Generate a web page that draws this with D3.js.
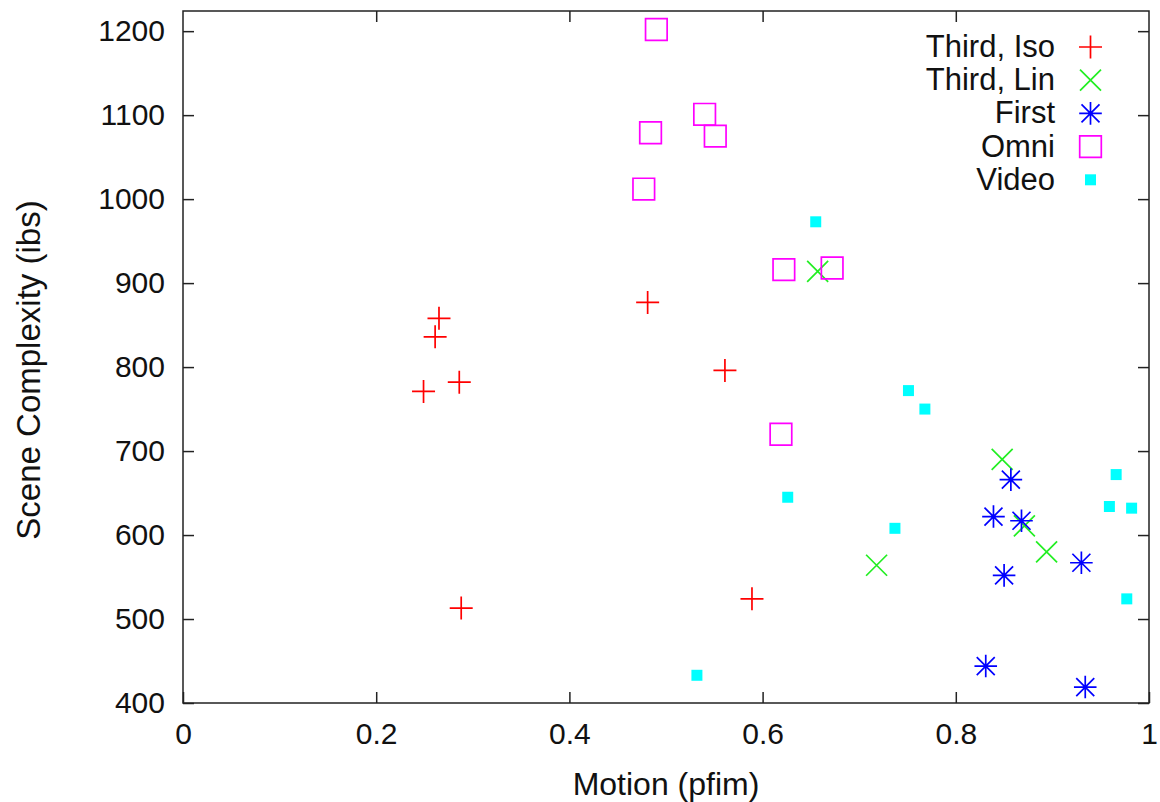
<!DOCTYPE html>
<html>
<head>
<meta charset="utf-8">
<script src="https://cdn.jsdelivr.net/npm/d3@7.9.0/dist/d3.min.js"></script>
<style>
  html, body { margin: 0; padding: 0; background: #fff; }
  svg text { font-family: "Liberation Sans", Arial, sans-serif; fill: #111; }
</style>
</head>
<body>
<svg id="chart" width="1160" height="802"></svg>
<script>
// ---- data ----
const isoX = [0.265, 0.261, 0.249, 0.286, 0.481, 0.561, 0.288, 0.589];
const isoY = [858, 836, 771, 782, 877, 796, 513, 524];

const linX = [0.657, 0.848, 0.871, 0.894, 0.718];
const linY = [914, 690, 611, 580, 564];

const firstX = [0.857, 0.839, 0.868, 0.850, 0.930, 0.831, 0.934];
const firstY = [666, 622, 617, 552, 567, 444, 419];

const omniX = [0.490, 0.540, 0.484, 0.551, 0.477, 0.622, 0.672, 0.619];
const omniY = [1202, 1101, 1079, 1075, 1012, 916, 918, 720];

const videoX = [0.655, 0.751, 0.768, 0.626, 0.737, 0.966, 0.959, 0.982, 0.977, 0.532];
const videoY = [973, 772, 750, 645, 608, 672, 634, 632, 524, 433];

const xTicks = [0, 0.2, 0.4, 0.6, 0.8, 1];
const yTicks = [400, 500, 600, 700, 800, 900, 1000, 1100, 1200];

const seriesNames = ["Third, Iso", "Third, Lin", "First", "Omni", "Video"];
const seriesColors = ["#ff0000", "#22ee22", "#0000ff", "#ff00ff", "#00ffff"];
const seriesMarkers = ["plus", "cross", "star", "box", "filledbox"];

const series = [
  { xs: isoX, ys: isoY },
  { xs: linX, ys: linY },
  { xs: firstX, ys: firstY },
  { xs: omniX, ys: omniY },
  { xs: videoX, ys: videoY }
].map((s, i) => ({
  name: seriesNames[i],
  color: seriesColors[i],
  marker: seriesMarkers[i],
  points: s.xs.map((x, j) => ({ x, y: s.ys[j] }))
}));

// ---- layout ----
const svg = d3.select("#chart");
const margin = { top: 11, right: 11, bottom: 99, left: 183 };
const width = 1160, height = 802;
const innerW = width - margin.left - margin.right;
const innerH = height - margin.top - margin.bottom;

const x = d3.scaleLinear().domain([0, 1]).range([0, innerW]);
const y = d3.scaleLinear().domain([400, 1224]).range([innerH, 0]);

const g = svg.append("g")
  .attr("transform", `translate(${margin.left},${margin.top})`);

// marker shapes (relative to the point)
function markerPath(type) {
  const p = d3.path();
  if (type === "plus") {
    p.moveTo(-11.5, 0); p.lineTo(11.5, 0);
    p.moveTo(0, -11.5); p.lineTo(0, 11.5);
  } else if (type === "cross") {
    p.moveTo(-10.5, -10.5); p.lineTo(10.5, 10.5);
    p.moveTo(-10.5, 10.5); p.lineTo(10.5, -10.5);
  } else if (type === "star") {
    p.moveTo(-11.3, 0); p.lineTo(11.3, 0);
    p.moveTo(0, -11.3); p.lineTo(0, 11.3);
    p.moveTo(-9, -9); p.lineTo(9, 9);
    p.moveTo(-9, 9); p.lineTo(9, -9);
  } else if (type === "box") {
    p.rect(-10.8, -10.8, 21.6, 21.6);
  } else {
    p.rect(-5.5, -5.5, 11, 11);
  }
  return p.toString();
}

function drawMarker(sel, s) {
  sel.attr("d", markerPath(s.marker))
    .attr("fill", s.marker === "filledbox" ? s.color : "none")
    .attr("stroke", s.marker === "filledbox" ? "none" : s.color)
    .attr("stroke-width", 1.7);
}

// axes: ticks inside on all four sides
const tickLen = 11;
g.append("g")
  .attr("class", "x-axis")
  .attr("transform", `translate(0,${innerH})`)
  .call(d3.axisBottom(x).tickValues(xTicks).tickSize(-tickLen).tickPadding(20)
    .tickFormat(d => d === 0 || d === 1 ? d3.format("d")(d) : d3.format(".1f")(d)));

g.append("g")
  .attr("class", "x-axis-top")
  .call(d3.axisTop(x).tickValues(xTicks.slice(1, -1)).tickSize(-tickLen).tickFormat(""));

g.append("g")
  .attr("class", "y-axis")
  .call(d3.axisLeft(y).tickValues(yTicks).tickSize(-tickLen).tickPadding(18)
    .tickFormat(d3.format("d")));

g.append("g")
  .attr("class", "y-axis-right")
  .attr("transform", `translate(${innerW},0)`)
  .call(d3.axisRight(y).tickValues(yTicks).tickSize(-tickLen).tickFormat(""));

g.selectAll(".domain").remove();
g.selectAll(".tick line").attr("stroke", "#222").attr("stroke-width", 1.5);
g.selectAll(".tick text")
  .attr("font-size", 30)
  .attr("fill", "#111");

// frame
g.append("rect")
  .attr("width", innerW)
  .attr("height", innerH)
  .attr("fill", "none")
  .attr("stroke", "#222")
  .attr("stroke-width", 1.5);

// points
series.forEach(s => {
  g.append("g")
    .selectAll("path")
    .data(s.points)
    .join("path")
    .attr("transform", d => `translate(${x(d.x)},${y(d.y)})`)
    .call(drawMarker, s);
});

// legend
const legend = g.append("g")
  .attr("transform", `translate(${innerW - 94},36)`);
series.forEach((s, i) => {
  const row = legend.append("g").attr("transform", `translate(0,${i * 33.2})`);
  row.append("text")
    .attr("x", 0)
    .attr("y", 10)
    .attr("text-anchor", "end")
    .attr("font-size", 31)
    .text(s.name);
  row.append("path")
    .attr("transform", "translate(35.5,0)")
    .call(drawMarker, s);
});

// axis labels
svg.append("text")
  .attr("x", margin.left + innerW / 2)
  .attr("y", 795)
  .attr("text-anchor", "middle")
  .attr("font-size", 32)
  .text("Motion (pfim)");

svg.append("text")
  .attr("transform", "translate(40,370) rotate(-90)")
  .attr("text-anchor", "middle")
  .attr("font-size", 33)
  .text("Scene Complexity (ibs)");
</script>
</body>
</html>
